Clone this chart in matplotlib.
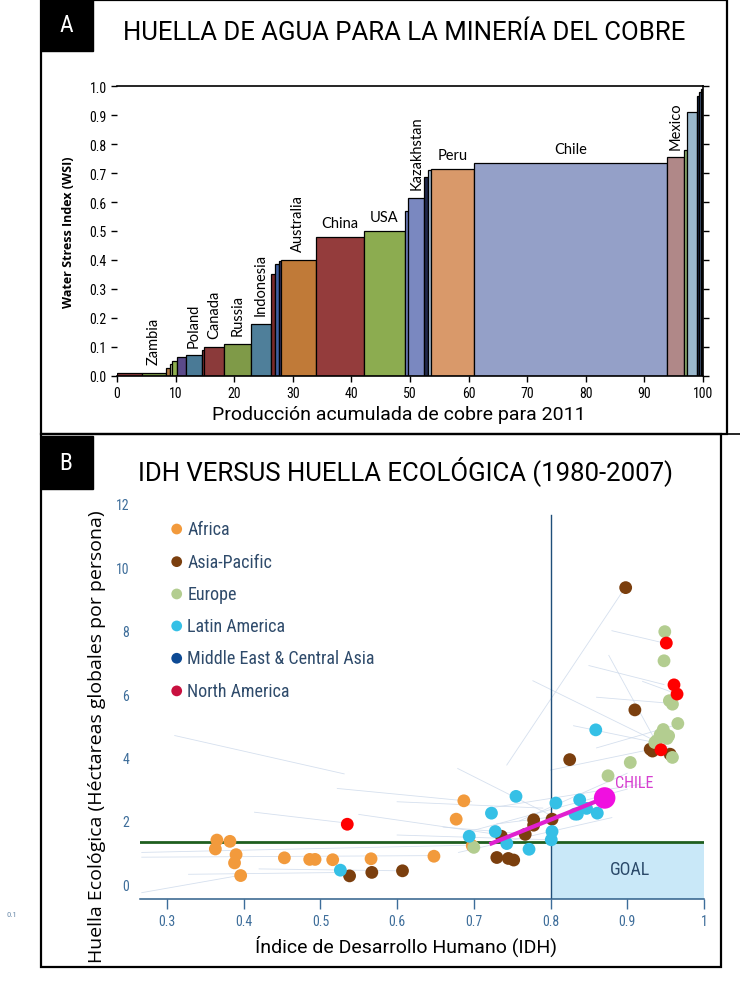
import numpy as np
import matplotlib
matplotlib.use('Agg')
import matplotlib.pyplot as plt
from matplotlib import font_manager
from matplotlib.patches import Rectangle
from matplotlib.lines import Line2D


def pick(*names):
    for n in names:
        try:
            font_manager.findfont(n, fallback_to_default=False)
            return n
        except ValueError:
            pass
    return 'DejaVu Sans'


COND = pick('Roboto Condensed', 'Liberation Sans Narrow', 'DejaVu Sans')
NARROW = pick('Liberation Sans Narrow', 'Roboto Condensed', 'DejaVu Sans')
TITLE = pick('Roboto', 'Lato', 'DejaVu Sans')
BODY = pick('Lato', 'Open Sans', 'DejaVu Sans')
OPEN = pick('Open Sans', 'Noto Sans', 'DejaVu Sans')

# ---------------- panel A data: copper production vs water stress
wsi_widths = [4.2, 4.1, 0.7, 0.4, 0.8, 1.5, 2.8, 0.3, 3.5, 4.5, 3.4, 0.7, 0.7, 0.4,
              5.9, 8.2, 7.0, 0.6, 2.7, 0.6, 0.6, 7.4, 32.9, 2.8, 0.5, 1.7, 0.4, 0.3, 0.4]
wsi_values = [0.008, 0.01, 0.025, 0.04, 0.052, 0.065, 0.07, 0.09, 0.10, 0.11, 0.18,
              0.35, 0.385, 0.395, 0.40, 0.48, 0.50, 0.57, 0.615, 0.685, 0.71, 0.715,
              0.735, 0.755, 0.78, 0.91, 0.965, 0.98, 0.99]
wsi_colors = ['#8b3a3a', '#7f9a48', '#b07840', '#c8d8a0', '#90b050', '#5a4a8a', '#4a7a96',
              '#8b3535', '#8b3a3a', '#7f9a48', '#4f7f9a', '#7a2a2a', '#4060a0', '#3a3a6a',
              '#c07a38', '#943c3c', '#8cac50', '#7080c0', '#7a88c0', '#20284a', '#a8c0d8',
              '#d9996a', '#94a0c8', '#b08888', '#90b070', '#9ab8cc', '#1a2a4a', '#506890',
              '#202020']
wsi_labels = ['', 'Zambia', '', '', '', '', 'Poland', '', 'Canada', 'Russia', 'Indonesia',
              '', '', '', 'Australia', 'China', 'USA', '', 'Kazakhstan', '', '', 'Peru',
              'Chile', 'Mexico', '', '', '', '', '']
flat_labels = ['China', 'USA', 'Peru', 'Chile']

# ---------------- panel B data: HDI vs ecological footprint
regions = ['Africa', 'Asia-Pacific', 'Europe', 'Latin America',
           'Middle East & Central Asia', 'North America']
legend_colors = ['#f29a3c', '#7b3f0e', '#b3cd90', '#35c0e6', '#0d4a94', '#c8103f']
point_colors = ['#f29a3c', '#7b3f0e', '#b3cd90', '#35c0e6', '#0d4a94', '#ff0000']

africa_hdi = [0.365, 0.363, 0.382, 0.390, 0.388, 0.396, 0.453, 0.486, 0.493, 0.516,
              0.566, 0.648, 0.687, 0.677, 0.698]
africa_fp = [1.39, 1.11, 1.35, 0.93, 0.67, 0.27, 0.83, 0.78, 0.78, 0.77,
             0.80, 0.88, 2.63, 2.05, 1.21]
asia_hdi = [0.538, 0.567, 0.607, 0.730, 0.745, 0.752, 0.767, 0.778, 0.778, 0.802,
            0.736, 0.825, 0.898, 0.910, 0.930, 0.933, 0.956]
asia_fp = [0.26, 0.37, 0.42, 0.84, 0.81, 0.76, 1.57, 2.03, 1.86, 2.05,
           1.51, 3.93, 9.36, 5.50, 4.26, 4.20, 4.10]
europe_hdi = [0.700, 0.875, 0.904, 0.949, 0.948, 0.955, 0.959, 0.966, 0.949, 0.943,
              0.954, 0.938, 0.936, 0.947, 0.952, 0.959]
europe_fp = [1.16, 3.42, 3.84, 7.97, 7.05, 5.79, 5.68, 5.07, 4.74, 4.72,
             4.68, 4.52, 4.47, 4.88, 4.60, 4.00]
latam_hdi = [0.526, 0.694, 0.723, 0.728, 0.743, 0.755, 0.772, 0.802, 0.801, 0.807,
             0.838, 0.832, 0.835, 0.847, 0.861, 0.859]
latam_fp = [0.44, 1.51, 2.24, 1.66, 1.28, 2.77, 1.10, 1.66, 1.40, 2.56,
            2.66, 2.21, 2.21, 2.39, 2.24, 4.87]
mideast_hdi = []
mideast_fp = []
namerica_hdi = [0.535, 0.951, 0.961, 0.965, 0.944]
namerica_fp = [1.89, 7.61, 6.29, 6.00, 4.24]

region_hdi = [africa_hdi, asia_hdi, europe_hdi, latam_hdi, mideast_hdi, namerica_hdi]
region_fp = [africa_fp, asia_fp, europe_fp, latam_fp, mideast_fp, namerica_fp]

chile_hdi = [0.7205, 0.8706]
chile_fp = [1.26, 2.72]

trail_start = [(0.31, 4.69), (0.897, 9.35), (0.267, -0.27), (0.414, 2.27), (0.522, 3.02),
               (0.679, 3.65), (0.777, 6.42), (0.876, 7.22), (0.328, 0.31), (0.42, 0.48),
               (0.267, 1.0), (0.267, 0.85), (0.60, 1.55), (0.55, 2.2), (0.85, 6.9),
               (0.86, 5.9), (0.92, 6.4), (0.83, 5.0), (0.80, 3.6), (0.72, 2.4),
               (0.70, 1.7), (0.76, 2.0), (0.68, 1.0), (0.73, 1.9), (0.60, 2.6),
               (0.66, 1.8), (0.88, 8.0), (0.86, 4.3)]
trail_end = [(0.531, 3.48), (0.743, 3.76), (0.396, 0.28), (0.537, 1.92), (0.697, 2.61),
             (0.802, 2.15), (0.962, 4.22), (0.949, 3.99), (0.537, 0.37), (0.605, 0.42),
             (0.697, 1.23), (0.65, 0.9), (0.80, 1.4), (0.75, 1.5), (0.948, 6.3),
             (0.96, 5.7), (0.965, 6.0), (0.95, 4.4), (0.94, 4.3), (0.93, 3.2),
             (0.90, 3.0), (0.90, 3.5), (0.88, 2.1), (0.86, 2.3), (0.79, 2.4),
             (0.76, 1.6), (0.95, 7.6), (0.96, 5.0)]

footprint_target = 1.34
hdi_target = 0.80

W, H = 740, 1003
fig = plt.figure(figsize=(W / 100, H / 100), dpi=100)


def fx(x):
    return x / W


def fy(y):
    return 1 - y / H


# ---------------- frames and panel headers
for x0, y0, x1, y1 in [(41, 1, 727, 435), (41, 435, 721, 968)]:
    fig.add_artist(Rectangle((fx(x0), fy(y1)), fx(x1) - fx(x0), fy(y0) - fy(y1),
                             transform=fig.transFigure, fill=False, ec='black', lw=1.6))
fig.add_artist(Line2D([fx(727), fx(740)], [fy(435), fy(435)], transform=fig.transFigure,
                      color='black', lw=1.2))
for letter, y0, y1 in [('A', 0, 52), ('B', 437, 490)]:
    fig.add_artist(Rectangle((fx(41), fy(y1)), fx(93) - fx(41), fy(y0) - fy(y1),
                             transform=fig.transFigure, color='black'))
    fig.text(fx(66), fy((y0 + y1) / 2), letter, color='white', fontsize=17,
             family=COND, ha='center', va='center')

fig.text(fx(404), fy(33), 'HUELLA DE AGUA PARA LA MINERÍA DEL COBRE', fontsize=18.5,
         family=TITLE, ha='center', va='center')
fig.text(fx(406), fy(471), 'IDH VERSUS HUELLA ECOLÓGICA (1980-2007)', fontsize=18.5,
         family=TITLE, ha='center', va='center')

# ---------------- panel A
axA = fig.add_axes([fx(117), fy(376.7), fx(703) - fx(117), fy(87.3) - fy(376.7)])
lefts = np.concatenate([[0], np.cumsum(wsi_widths)[:-1]])
axA.bar(lefts, wsi_values, width=wsi_widths, align='edge', color=wsi_colors,
        edgecolor='black', linewidth=0.9)
for left, w, v, lab in zip(lefts, wsi_widths, wsi_values, wsi_labels):
    if not lab:
        continue
    if lab in flat_labels:
        axA.text(left + w / 2, v + 0.025, lab, ha='center', va='bottom', fontsize=10.5,
                 family=BODY)
    else:
        axA.text(left + w / 2, v + 0.03, lab, ha='center', va='bottom', rotation=90,
                 fontsize=10.5, family=BODY)
axA.set_xlim(0, 100)
axA.set_ylim(0, 1.0)
axA.set_xticks(np.arange(0, 101, 10))
axA.set_yticks(np.arange(0, 1.01, 0.1))
axA.set_yticklabels([f'{v:.1f}' for v in np.arange(0, 1.01, 0.1)])
axA.spines['left'].set_visible(False)
for s in ['top', 'right', 'bottom']:
    axA.spines[s].set_linewidth(1.2)
axA.tick_params(axis='both', labelsize=10, length=4, width=1)
axA.tick_params(axis='y', right=True)
for lab in axA.get_xticklabels() + axA.get_yticklabels():
    lab.set_family(COND)
axA.set_ylabel('Water Stress Index (WSI)', fontsize=9, fontweight='bold', family=OPEN,
               labelpad=10)
axA.set_xlabel('Producción acumulada de cobre para 2011', fontsize=14, family=TITLE)
axA.xaxis.set_label_coords((399 - 117) / 586, -0.10)

# ---------------- panel B
axB = fig.add_axes([fx(140.2), fy(900), fx(703.9) - fx(140.2), fy(505) - fy(900)])
axB.set_xlim(0.265, 1.0)
axB.set_ylim(-0.47, 12.0)
for (x0, y0), (x1, y1) in zip(trail_start, trail_end):
    axB.plot([x0, x1], [y0, y1], color='#cbd8ea', lw=0.6, alpha=0.8, zorder=1)
axB.add_patch(Rectangle((hdi_target, -0.47), 1.0 - hdi_target, footprint_target - 0.05 + 0.47,
                        facecolor='#c9e8f8', edgecolor='none', zorder=0))
axB.text(0.903, 0.47, 'GOAL', fontsize=13, color='#2b4a6a', family=NARROW,
         ha='center', va='center')
axB.axhline(footprint_target, color='#1f5f1f', lw=2, zorder=2)
axB.plot([hdi_target, hdi_target], [-0.47, 11.65], color='#1f4f7a', lw=1, zorder=2)
for hdi, fp, col in zip(region_hdi, region_fp, point_colors):
    axB.scatter(hdi, fp, s=85, color=col, edgecolors='none', zorder=3)
axB.plot(chile_hdi, chile_fp, color='#e020d0', lw=3, zorder=4, solid_capstyle='butt')
axB.scatter(chile_hdi[-1:], chile_fp[-1:], s=240, color='#f010e0', edgecolors='none',
            zorder=5)
axB.text(chile_hdi[-1] + 0.013, chile_fp[-1] + 0.5, 'CHILE', fontsize=11.5, color='#d63fd0',
         family=NARROW, va='center')

leg_y = [11.21, 10.18, 9.16, 8.15, 7.13, 6.10]
for name, col, yy in zip(regions, legend_colors, leg_y):
    axB.scatter([0.3126], [yy], s=60, color=col, edgecolors='none', zorder=3)
    axB.text(0.3265, yy, name, fontsize=13, color='#2f4b6b', family=NARROW, va='center')

for s in ['top', 'right', 'left']:
    axB.spines[s].set_visible(False)
axB.spines['bottom'].set_color('#2f5f8a')
axB.spines['bottom'].set_linewidth(1.1)
axB.set_xticks(np.arange(0.3, 1.001, 0.1))
axB.set_xticklabels(['0.3', '0.4', '0.5', '0.6', '0.7', '0.8', '0.9', '1'])
axB.set_yticks(np.arange(0, 12.1, 2))
axB.set_yticklabels([str(v) for v in range(0, 13, 2)])
axB.tick_params(axis='x', colors='#3d6d9a', labelsize=10, length=7, width=1, pad=4)
axB.tick_params(axis='y', colors='#3d6d9a', labelsize=10, length=0, pad=8)
for lab in axB.get_xticklabels() + axB.get_yticklabels():
    lab.set_family(NARROW)
axB.set_xlabel('Índice de Desarrollo Humano (IDH)', fontsize=14, family=TITLE)
axB.xaxis.set_label_coords((406 - 140.2) / 563.7, -0.09)
fig.text(fx(97), fy(737), 'Huella Ecológica (Héctareas globales por persona)', fontsize=14,
         family=OPEN, rotation=90, ha='center', va='center')
fig.text(fx(12), fy(915), '0.1', fontsize=6, color='#6a8aaa', family=NARROW,
         ha='center', va='center')

fig.savefig('out.png', dpi=100)
